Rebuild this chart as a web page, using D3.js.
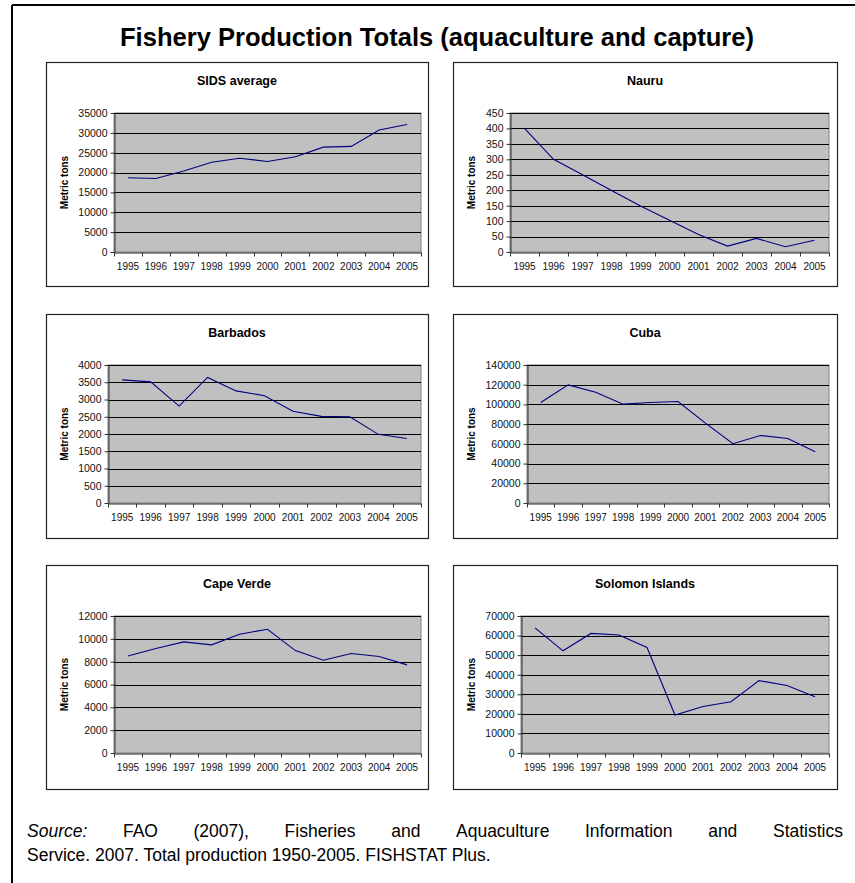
<!DOCTYPE html>
<html>
  <head>
    <meta charset="utf-8" />
    <title>Fishery Production Totals</title>
    <style>
      html, body {
        margin: 0;
        padding: 0;
        background: white;
      }
      svg text {
        font-family: "Liberation Sans", Arial, sans-serif;
      }
    </style>
  </head>
  <body>
    <script src="https://cdn.jsdelivr.net/npm/d3@7/dist/d3.min.js"></script>
    <script>
      var years = ["1995", "1996", "1997", "1998", "1999", "2000", "2001", "2002", "2003", "2004", "2005"];

      var sidsAverage = [18700, 18500, 20400, 22600, 23600, 22800, 24000, 26400, 26600, 30700, 32100];
      var nauru = [400, 300, 250, 199, 149, 103, 57, 19, 44, 17, 38];
      var barbados = [3570, 3510, 2810, 3640, 3250, 3110, 2660, 2510, 2500, 1990, 1870];
      var cuba = [102000, 119800, 112300, 100300, 102000, 102900, 81000, 60200, 68500, 65400, 52000];
      var capeVerde = [8500, 9150, 9730, 9470, 10400, 10840, 8970, 8130, 8710, 8450, 7720];
      var solomon = [63900, 52200, 61100, 60300, 53900, 19400, 23800, 26200, 37000, 34500, 28700];

      var panelTitles = ["SIDS average", "Nauru", "Barbados", "Cuba", "Cape Verde", "Solomon Islands"];
      var panelSeries = [sidsAverage, nauru, barbados, cuba, capeVerde, solomon];
      var yMaxes = [35000, 450, 4000, 140000, 12000, 70000];
      var ySteps = [5000, 50, 500, 20000, 2000, 10000];

      var mainTitle = "Fishery Production Totals (aquaculture and capture)";
      var sourceLine1 = ["FAO", "(2007),", "Fisheries", "and", "Aquaculture", "Information", "and", "Statistics"];
      var sourceLine2 = "Service. 2007. Total production 1950-2005. FISHSTAT Plus.";

      var w = 855, h = 883;
      var srcSize = "17.5px";

      var svg = d3.select("body")
        .append("svg")
        .attr("width", w)
        .attr("height", h);

      // outer frame (only left and top edges are visible)
      svg.append("line").attr("x1", 12).attr("y1", 5).attr("x2", 12).attr("y2", h)
        .attr("stroke", "black").attr("stroke-width", 2);
      svg.append("line").attr("x1", 12).attr("y1", 5).attr("x2", w).attr("y2", 5)
        .attr("stroke", "black").attr("stroke-width", 2);

      svg.append("text")
        .attr("x", 437)
        .attr("y", 46)
        .attr("text-anchor", "middle")
        .attr("font-size", "25px")
        .attr("font-weight", "bold")
        .attr("textLength", 634)
        .attr("lengthAdjust", "spacingAndGlyphs")
        .text(mainTitle);

      // panel boxes
      var colX = [46, 453];
      var rowY = [62, 314, 565];
      var boxW = [382, 384];
      var boxH = 224;

      // measure a string's rendered width
      function textWidth(str, size, style) {
        var t = svg.append("text").attr("font-size", size)
          .attr("font-style", style || null).text(str);
        var wd = t.node().getComputedTextLength();
        t.remove();
        return wd;
      }

      panelTitles.forEach(function (title, i) {
        var col = i % 2, row = Math.floor(i / 2);
        var bx = colX[col], by = rowY[row], bw = boxW[col];
        var data = panelSeries[i];

        var g = svg.append("g").attr("transform", "translate(" + bx + "," + by + ")");

        g.append("rect")
          .attr("x", 0.5).attr("y", 0.5)
          .attr("width", bw).attr("height", boxH)
          .attr("fill", "white")
          .attr("stroke", "#222")
          .attr("stroke-width", 1.2);

        g.append("text")
          .attr("x", bw / 2)
          .attr("y", 23)
          .attr("text-anchor", "middle")
          .attr("font-size", "12.5px")
          .attr("font-weight", "bold")
          .text(title);

        var yTicks = d3.range(0, yMaxes[i] + ySteps[i] / 2, ySteps[i]);
        var labelW = textWidth(String(yMaxes[i]), "10.5px");
        var left = Math.round(39 + labelW);
        var right = bw - 7 - (col === 1 ? 1 : 0);
        var top = 51, bottom = 190 - row;

        var x = d3.scaleBand().domain(years).range([left, right]);
        var y = d3.scaleLinear().domain([0, yMaxes[i]]).range([bottom, top]);

        g.append("rect")
          .attr("x", left).attr("y", top)
          .attr("width", right - left).attr("height", bottom - top)
          .attr("fill", "#c0c0c0")
          .attr("stroke", "#808080")
          .attr("stroke-width", 1);

        g.append("g")
          .selectAll("line")
          .data(yTicks.slice(1))
          .enter()
          .append("line")
          .attr("x1", left).attr("x2", right)
          .attr("y1", function (d) { return Math.round(y(d)) + 0.5; })
          .attr("y2", function (d) { return Math.round(y(d)) + 0.5; })
          .attr("stroke", "black")
          .attr("stroke-width", 1);

        var yAxis = d3.axisLeft(y)
          .tickValues(yTicks)
          .tickSize(4)
          .tickSizeOuter(0)
          .tickPadding(3)
          .tickFormat(d3.format("d"));

        var ya = g.append("g")
          .attr("transform", "translate(" + (left + 0.5) + ",0)")
          .call(yAxis);
        ya.selectAll("text").attr("font-size", "10.5px").attr("font-family", null).attr("fill", "#111");
        ya.selectAll("line").attr("stroke", "#333");
        ya.select(".domain").attr("stroke", "#333");

        // category axis: ticks sit between categories
        var xAxis = d3.axisBottom(x).tickSize(0).tickPadding(10);
        var xa = g.append("g")
          .attr("transform", "translate(0," + (bottom + 0.5) + ")")
          .call(xAxis);
        xa.selectAll("text").attr("font-size", "10px").attr("font-family", null).attr("fill", "#111");
        xa.select(".domain").attr("stroke", "#222");

        var bounds = years.map(function (d) { return x(d); }).concat([right]);
        xa.selectAll(".sep")
          .data(bounds)
          .enter()
          .append("line")
          .attr("class", "sep")
          .attr("x1", function (d) { return Math.round(d) + 0.5; })
          .attr("x2", function (d) { return Math.round(d) + 0.5; })
          .attr("y1", 0).attr("y2", 4)
          .attr("stroke", "#333");

        g.append("text")
          .attr("transform", "translate(" + 22 + "," + ((top + bottom) / 2) + ") rotate(-90)")
          .attr("text-anchor", "middle")
          .attr("font-size", "10px")
          .attr("font-weight", "bold")
          .text("Metric tons");

        var line = d3.line()
          .x(function (d, j) { return x(years[j]) + x.bandwidth() / 2; })
          .y(function (d) { return y(d); });

        g.append("path")
          .datum(data)
          .attr("d", line)
          .attr("fill", "none")
          .attr("stroke", "#000080")
          .attr("stroke-width", 1.1);
      });

      // source note, first line justified
      var srcLeft = 27, srcRight = 843;
      var words = ["Source:"].concat(sourceLine1);
      var widths = words.map(function (wd, k) {
        return textWidth(wd, srcSize, k === 0 ? "italic" : null);
      });
      var gap = (srcRight - srcLeft - d3.sum(widths)) / (words.length - 1);
      var cx = srcLeft;
      words.forEach(function (wd, k) {
        svg.append("text")
          .attr("x", cx)
          .attr("y", 837)
          .attr("font-size", srcSize)
          .attr("font-style", k === 0 ? "italic" : null)
          .text(wd);
        cx += widths[k] + gap;
      });

      svg.append("text")
        .attr("x", srcLeft)
        .attr("y", 861)
        .attr("font-size", srcSize)
        .text(sourceLine2);
    </script>
  </body>
</html>
